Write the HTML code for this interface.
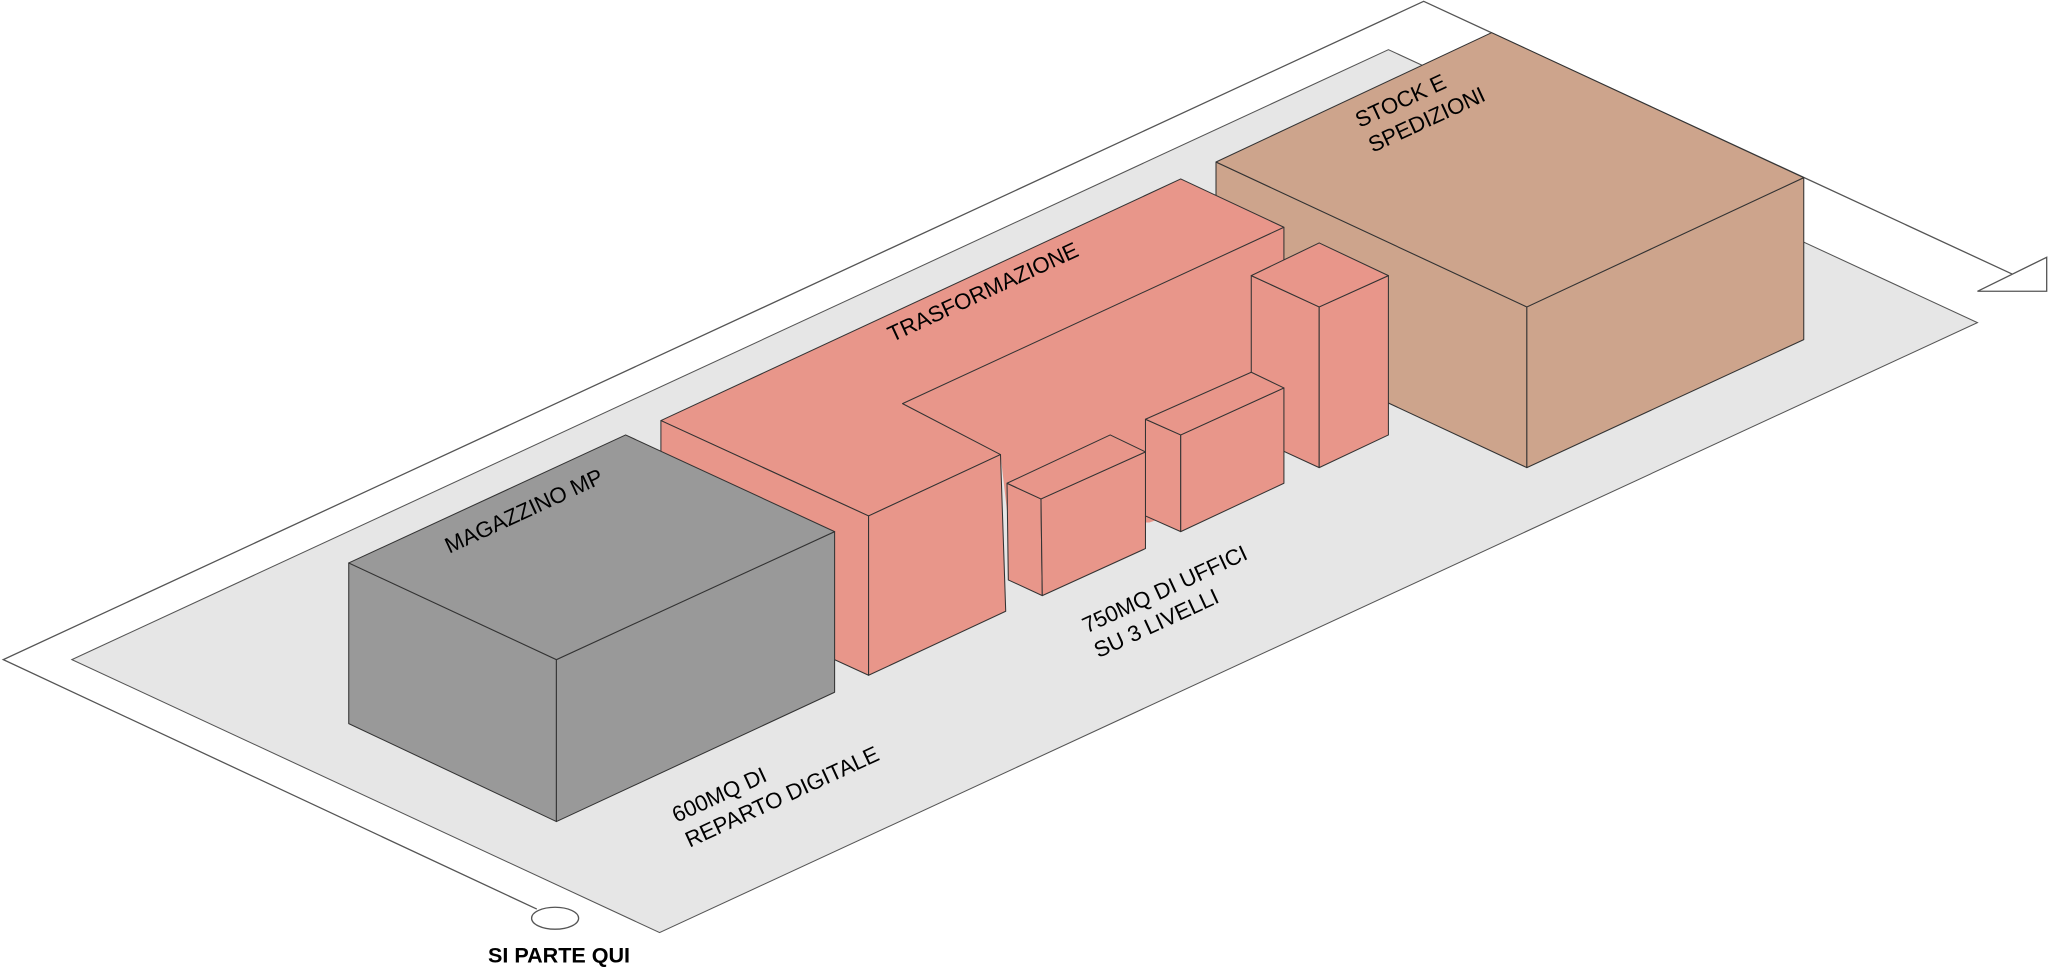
<!DOCTYPE html>
<html><head><meta charset="utf-8"><style>html,body{margin:0;padding:0;background:#fff}svg{display:block}</style></head>
<body>
<svg width="2048" height="971" viewBox="0 0 1568 743.4" xmlns="http://www.w3.org/2000/svg" font-family="Liberation Sans, sans-serif">
<!-- ground -->
<polygon points="55,505 1063,38 1514,247 505,714" fill="#e6e6e6" stroke="#555" stroke-width="0.8"/>
<!-- outer path -->
<polyline points="411,696 2.5,505 1090,1 1541,210" fill="none" stroke="#555" stroke-width="1"/>
<polygon points="1514,223 1567,197 1567,223" fill="#fff" stroke="#555" stroke-width="1"/>
<ellipse cx="425" cy="703" rx="18" ry="8.4" fill="#fff" stroke="#555" stroke-width="1"/>
<!-- brown box -->
<g fill="#cda48c" stroke="#333" stroke-width="0.8" stroke-linejoin="round">
<polygon points="931,124 1169,235 1169,358 931,247"/>
<polygon points="1169,235 1381,136 1381,260 1169,358"/>
<polygon points="931,124 1142,25 1381,136 1169,235"/>
</g>
<!-- pink L -->
<g fill="#e8968a" stroke="#333" stroke-width="0.8" stroke-linejoin="round">
<polygon points="691,309 983,174 983,365 880,400 772,400 766,348" stroke="none"/>
<line x1="983" y1="174" x2="983" y2="300"/>
<polygon points="506,322 904,137 983,174 691,309 766,348 665,395"/>
<!-- tall box C -->
<polygon points="958,211 1010,235 1010,358 958,334"/>
<polygon points="1010,235 1063,211 1063,333 1010,358"/>
<polygon points="958,211 1010,186 1063,211 1010,235"/>
<!-- box B -->
<polygon points="877,321 904,333 904,407 877,395"/>
<polygon points="904,333 983,297 983,370 904,407"/>
<polygon points="877,321 958,285 983,297 904,333"/>
<!-- box A -->
<polygon points="771,370 797,382 798,456 772,444"/>
<polygon points="797,382 877,346 877,420 798,456"/>
<polygon points="771,370 850,333 877,346 797,382"/>
<!-- front wing faces -->
<polygon points="506,322 665,395 665,517 506,444"/>
<polygon points="665,395 766,348 770,468 665,517"/>
</g>
<!-- magazzino -->
<g fill="#999999" stroke="#333" stroke-width="0.8" stroke-linejoin="round">
<polygon points="267,431 426,505 426,629 267,554"/>
<polygon points="426,505 639,407 639,530 426,629"/>
<polygon points="267,431 479,333 639,407 426,505"/>
</g>
<!-- labels -->
<g font-size="17" fill="#000">
<text x="344" y="424" transform="rotate(-24.8 344 424)">MAGAZZINO MP</text>
<text x="683" y="262" transform="rotate(-24.8 683 262)">TRASFORMAZIONE</text>
<text x="1041" y="98" transform="rotate(-24.8 1041 98)">STOCK E</text>
<text x="1051" y="117" transform="rotate(-24.8 1051 117)">SPEDIZIONI</text>
<text x="832" y="485" transform="rotate(-24.8 832 485)">750MQ DI UFFICI</text>
<text x="841" y="504" transform="rotate(-24.8 841 504)">SU 3 LIVELLI</text>
<text x="518" y="630" transform="rotate(-24.8 518 630)">600MQ DI</text>
<text x="528" y="649" transform="rotate(-24.8 528 649)">REPARTO DIGITALE</text>
</g>
<text x="428" y="737" font-size="16.5" font-weight="bold" text-anchor="middle" fill="#000">SI PARTE QUI</text>
</svg>
</body></html>
